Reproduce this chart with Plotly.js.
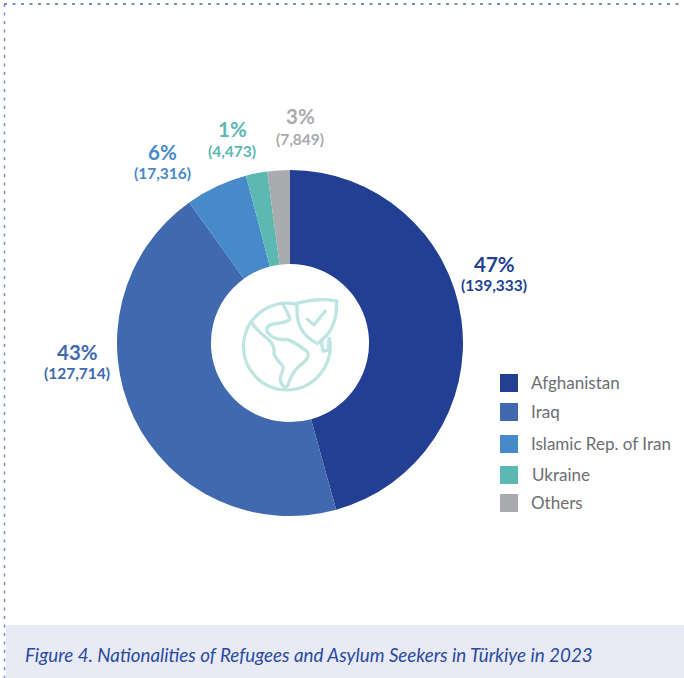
<!DOCTYPE html>
<html>
<head>
<meta charset="utf-8">
<script src="https://cdn.plot.ly/plotly-3.0.1.min.js"></script>
<style>html,body{margin:0;padding:0;background:#fff}#chart{width:684px;height:678px}</style>
</head>
<body>
<div id="chart"></div>
<script>
const categories = ['Afghanistan', 'Iraq', 'Islamic Rep. of Iran', 'Ukraine', 'Others'];
// Slice shares (%) as drawn in the picture; the printed labels are kept separately below.
const sliceShares = [45.7, 44.4, 5.8, 2.0, 2.1];
const percentLabels = ['47%', '43%', '6%', '1%', '3%'];
const countLabels = ['(139,333)', '(127,714)', '(17,316)', '(4,473)', '(7,849)'];
const colors = ['#223f94', '#4169b0', '#478ac9', '#5cb8b2', '#a9abae'];
const figureTitle = 'Figure 4. Nationalities of Refugees and Asylum Seekers in Türkiye in 2023';

const W = 684, H = 678;
const px = x => x / W;
const py = y => 1 - y / H;
const FONT = 'Lato, sans-serif';

const labelPos = [[494, 264, 285], [77, 352, 373], [162, 152, 173], [232, 129, 151], [300, 116, 139]];
const legendY = [383, 412, 444, 475, 503];
const legendTextX = [529, 529, 529, 530, 529];

const annotations = [];
categories.forEach((c, i) => {
  const [x, y1, y2] = labelPos[i];
  annotations.push({xref:'paper', yref:'paper', x:px(x), y:py(y1), xanchor:'center', yanchor:'middle',
    showarrow:false, text:'<b>' + percentLabels[i] + '</b>', font:{family:FONT, size:20.5, color:colors[i]}});
  annotations.push({xref:'paper', yref:'paper', x:px(x), y:py(y2), xanchor:'center', yanchor:'middle',
    showarrow:false, text:'<b>' + countLabels[i] + '</b>', font:{family:FONT, size:15.5, color:colors[i]}});
  annotations.push({xref:'paper', yref:'paper', x:px(legendTextX[i]), y:py(legendY[i] - 0.5), xanchor:'left', yanchor:'middle',
    showarrow:false, text:c, font:{family:FONT, size:17, color:'#6d6e71'}});
});
annotations.push({xref:'paper', yref:'paper', x:px(23), y:py(654), xanchor:'left', yanchor:'middle',
  showarrow:false, text:'<i>' + figureTitle + '</i>', font:{family:FONT, size:18.8, color:'#2a4a9f'}});

const shapes = [
  {type:'rect', xref:'paper', yref:'paper', x0:px(6), x1:1, y0:py(678), y1:py(625), fillcolor:'#e8eaf6', line:{width:0}, layer:'below'},
  {type:'line', xref:'paper', yref:'paper', x0:px(4), x1:1, y0:py(4), y1:py(4), line:{color:'#7b8cc4', width:2, dash:'3px,5.5px'}},
  {type:'line', xref:'paper', yref:'paper', x0:px(4.5), x1:px(4.5), y0:py(4), y1:0, line:{color:'#7b8cc4', width:1.5, dash:'3px,5.5px'}}
];
legendY.forEach((y, i) => shapes.push({type:'rect', xref:'paper', yref:'paper',
  x0:px(500), x1:px(518), y0:py(y + 9), y1:py(y - 9), fillcolor:colors[i], line:{width:0}}));

const iconSvg = `<svg xmlns="http://www.w3.org/2000/svg" width="540" height="420" viewBox="0 0 540 420">
<g fill="none" stroke="#bfe5e3" stroke-width="10" stroke-linecap="round" stroke-linejoin="round">
<path d="M290,103 A130,130 0 1 0 388,205"/>
<path d="M250,105 C258,118 262,128 270,145 C268,158 240,158 215,163 C198,168 195,182 208,193 C220,206 245,212 262,208 C280,215 300,228 322,245 C330,262 318,272 298,288 C278,305 270,325 264,345 C258,358 245,350 241,330 C240,310 255,300 248,288 C240,275 226,268 222,250 C225,230 212,212 195,200 C178,188 165,172 155,157"/>
<path d="M290,100 Q350,82 410,93 L408,130 Q400,190 352,220 Q300,195 292,140 Z"/>
<path d="M322,148 L342,165 L376,123"/>
<path d="M387,205 L385,240 L368,243 L365,215"/>
</g></svg>`;

const data = [{
  type:'pie', labels:categories, values:sliceShares, hole:0.457, sort:false, direction:'clockwise', rotation:0,
  marker:{colors:colors, line:{width:0}}, textinfo:'none', hoverinfo:'label', showlegend:false,
  domain:{x:[px(290 - 173), px(290 + 173)], y:[py(516), py(170)]}
}];

const layout = {
  width:W, height:H, margin:{l:0, r:0, t:0, b:0}, paper_bgcolor:'#ffffff', plot_bgcolor:'#ffffff',
  showlegend:false, annotations:annotations, shapes:shapes,
  images:[{source:'data:image/svg+xml;base64,' + btoa(iconSvg), xref:'paper', yref:'paper',
    x:px(200), y:py(270), sizex:180 / W, sizey:140 / H, xanchor:'left', yanchor:'top', sizing:'stretch', layer:'above'}]
};
Plotly.newPlot('chart', data, layout, {displayModeBar:false, staticPlot:true});
</script>
</body>
</html>
